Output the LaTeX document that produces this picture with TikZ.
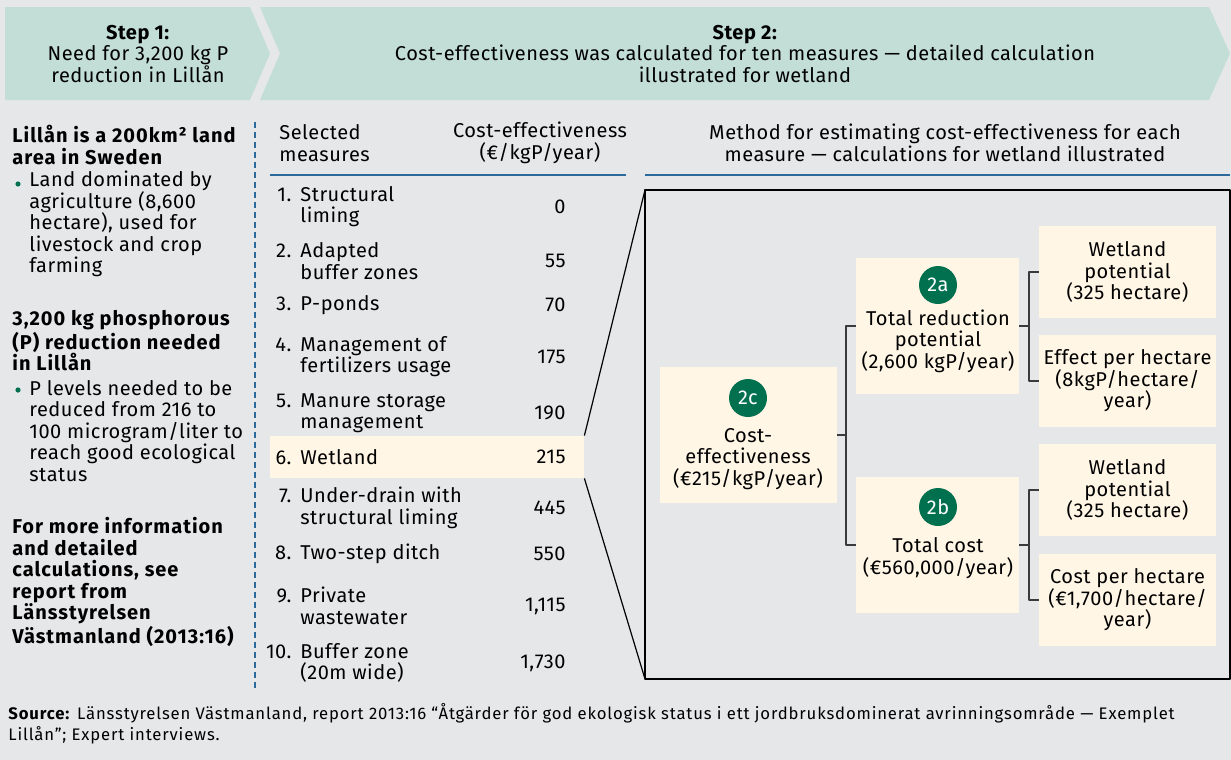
\documentclass[tikz,border=0pt]{standalone}
\usepackage{fontspec}
\setmainfont{Fira Sans}[LetterSpace=2.5]
\definecolor{pagebg}{HTML}{E6E7E9}
\definecolor{steptint}{HTML}{C3DED7}
\definecolor{creamtint}{HTML}{FFF6E6}
\definecolor{badgegreen}{HTML}{00704F}
\definecolor{ruleblue}{HTML}{2C6A9C}
\definecolor{linkgray}{HTML}{3A3A3A}
\begin{document}
\begin{tikzpicture}[x=0.5pt,y=-0.5pt,line join=round,
    txt/.style={inner sep=0pt,align=center,font=\fontsize{10}{10.75}\selectfont},
    lefttxt/.style={txt,align=left,anchor=west},
    boldtxt/.style={lefttxt,font=\fontsize{10}{10.75}\selectfont\bfseries\addfontfeatures{LetterSpace=5}},
    dot/.style={circle,fill=badgegreen,inner sep=0pt,minimum size=2.6pt},
    rule/.style={ruleblue,line width=0.6pt},
    frame/.style={black,line width=0.6pt},
    link/.style={linkgray,line width=0.6pt},
    cream/.style={fill=creamtint,inner sep=0pt},
    midbox/.style={cream,minimum width=81.5pt,minimum height=68pt},
    sidebox/.style={cream,txt,minimum width=88.5pt,minimum height=46pt},
    badge/.style={circle,fill=badgegreen,text=white,inner sep=0pt,minimum size=19pt,
      font=\fontsize{10}{10.75}\selectfont}]
  \fill[pagebg] (0,0) rectangle (1231,760);
  \useasboundingbox (0,0) rectangle (1231,760);

  % the two steps
  \fill[steptint] (5,7) -- (250,7) -- (270,53.5) -- (250,100) -- (5,100) -- cycle;
  \fill[steptint] (260,7) -- (1209,7) -- (1230,53.5) -- (1209,100) -- (260,100)
    -- (280,53.5) -- cycle;
  \node[txt] (step1) at (138,54) {\textbf{Step 1:}\\Need for 3,200 kg P\\reduction in Lillån};
  \node[txt] (step2) at (745,54) {\textbf{Step 2:}\\Cost-effectiveness was calculated for
    ten measures — detailed calculation\\illustrated for wetland};

  % left column
  \node[boldtxt] (area) at (12,145) {Lillån is a 200km² land\\area in Sweden};
  \node[dot] (d1) at (18,184) {};
  \node[lefttxt] (land) at (29,224) {Land dominated by\\agriculture (8,600\\hectare), used for\\livestock and crop\\farming};
  \node[boldtxt] (need) at (12,341) {3,200 kg phosphorous\\(P) reduction needed\\in Lillån};
  \node[dot] (d2) at (18,390) {};
  \node[lefttxt] (levels) at (29,431) {P levels needed to be\\reduced from 216 to\\100 microgram/liter to\\reach good ecological\\status};
  \node[boldtxt] (info) at (12,582) {For more information\\and detailed\\calculations, see\\report from\\Länsstyrelsen\\Västmanland (2013:16)};
  \draw[ruleblue,line width=0.6pt,dash pattern=on 3pt off 2pt] (255,122) -- (255,690);

  % table of measures
  \node[lefttxt] (selhead) at (279,143) {Selected\\measures};
  \node[txt] (cehead) at (540,143) {Cost-effectiveness\\(€/kgP/year)};
  \draw[rule] (270,175) -- (626,175);
  \node[cream,minimum width=157pt,minimum height=21pt] (wet) at (427,457) {};
  \foreach \k/\m/\v/\y in {1/{Structural\\liming}/0/206.5,
      2/{Adapted\\buffer zones}/55/261,
      3/{P-ponds}/70/305,
      4/{Management of\\fertilizers usage}/175/356.5,
      5/{Manure storage\\management}/190/413,
      6/{Wetland}/215/457,
      7/{Under-drain with\\structural liming}/445/508,
      8/{Two-step ditch}/550/554,
      9/{Private\\wastewater}/{1,115}/606,
      10/{Buffer zone\\(20m wide)}/{1,730}/663}
  {
    \node[lefttxt] (m\k) at (300,\y) {\llap{\k.\hspace{4.5pt}}\m};
    \node[txt,anchor=east] (v\k) at (566,\y) {\v};
  }

  % method for wetland
  \node[txt] (method) at (945,143) {Method for estimating cost-effectiveness for each\\measure — calculations for wetland illustrated};
  \draw[rule] (645,175) -- (1230,175);
  \coordinate (zl) at (645,190);
  \coordinate (zr) at (1230,679);
  \draw[frame] (zl) rectangle (zr);
  \draw[frame] (wet.north east) -- (zl);
  \draw[frame] (wet.south east) -- (zl |- zr);

  \node[cream,minimum width=88.5pt,minimum height=68pt] (c2) at (748.5,435) {};
  \node[badge] (c2b) at (748,398) {2c};
  \node[txt] (c2t) at (748,459) {Cost-\\effectiveness\\(€215/kgP/year)};

  \node[midbox] (a2) at (937.5,326) {};
  \node[badge] (a2b) at (938,285) {2a};
  \node[txt] (a2t) at (938,341) {Total reduction\\potential\\(2,600 kgP/year)};

  \node[midbox] (b2) at (937.5,545) {};
  \node[badge] (b2b) at (938,507) {2b};
  \node[txt] (b2t) at (938,558) {Total cost\\(€560,000/year)};

  \node[sidebox] (wp1) at (1127.5,272) {Wetland\\potential\\(325 hectare)};
  \node[sidebox] (eff) at (1127.5,381) {Effect per hectare\\(8kgP/hectare/\\year)};
  \node[sidebox] (wp2) at (1127.5,490) {Wetland\\potential\\(325 hectare)};
  \node[sidebox] (cph) at (1127.5,600) {Cost per hectare\\(€1,700/hectare/\\year)};

  % tree links
  \coordinate (j1) at (846,0);
  \coordinate (j2) at (1029,0);
  \draw[link] (c2.east) -- (c2.east -| j1);
  \draw[link] (a2.west) -- (a2.west -| j1) -- (b2.west -| j1) -- (b2.west);
  \draw[link] (a2.east) -- (a2.east -| j2);
  \draw[link] (wp1.west) -- (wp1.west -| j2) -- (eff.west -| j2) -- (eff.west);
  \draw[link] (b2.east) -- (b2.east -| j2);
  \draw[link] (wp2.west) -- (wp2.west -| j2) -- (cph.west -| j2) -- (cph.west);

  % source
  \node[lefttxt,font=\fontsize{8.35}{10.5}\selectfont\addfontfeatures{LetterSpace=5}] (src) at (8,723.5)
    {\textbf{Source:} Länsstyrelsen Västmanland, report 2013:16 “Åtgärder för god ekologisk status i ett jordbruksdominerat avrinningsområde — Exemplet\\Lillån”; Expert interviews.};
\end{tikzpicture}
\end{document}
